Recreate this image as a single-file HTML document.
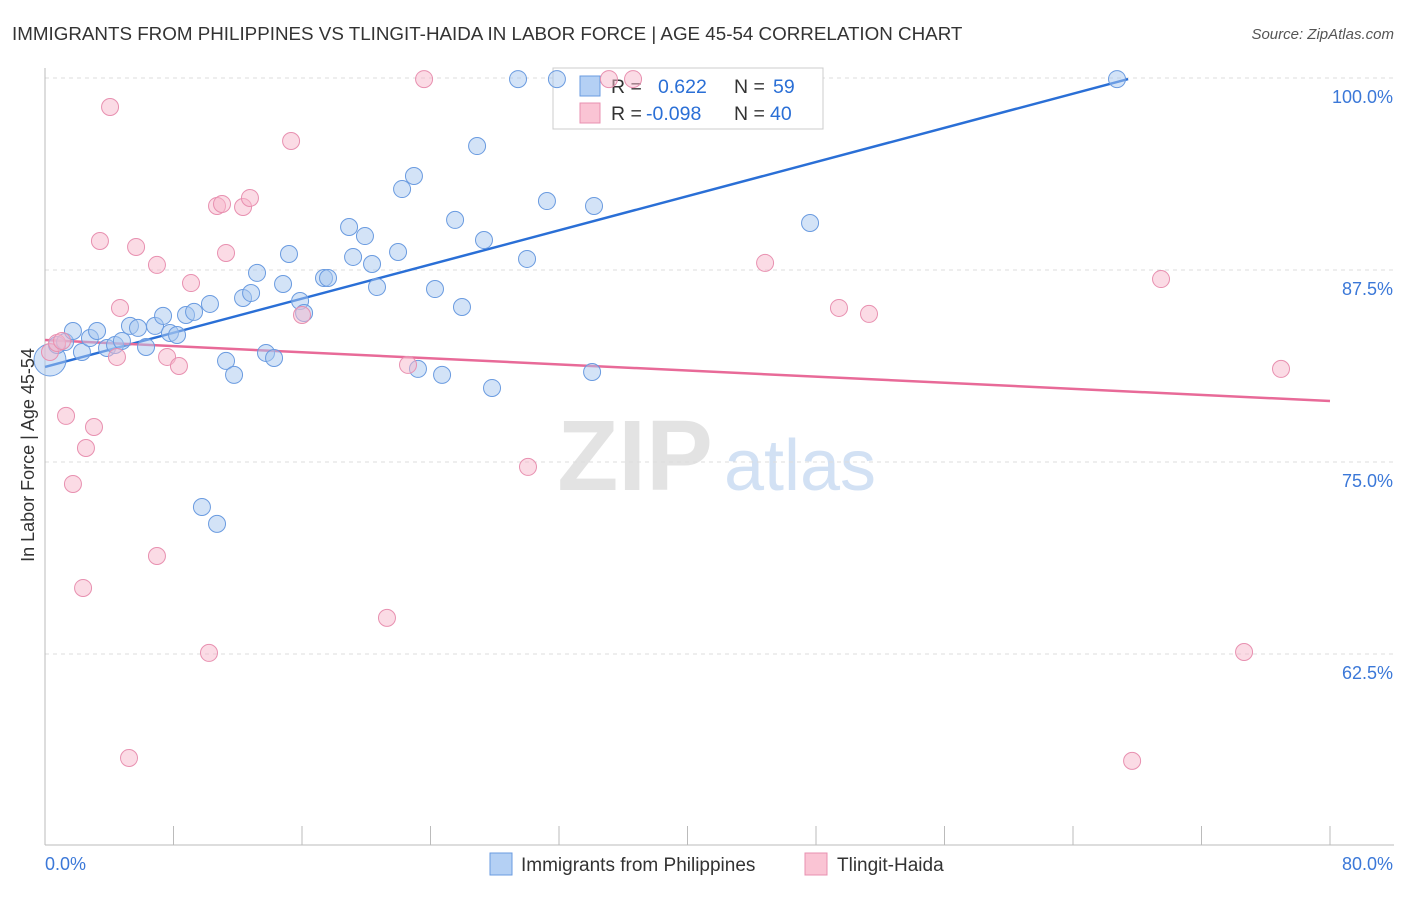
<!DOCTYPE html>
<html><head><meta charset="utf-8"><style>
body{margin:0;background:#fff;font-family:"Liberation Sans",sans-serif;}
svg text{font-family:"Liberation Sans",sans-serif;}
</style></head><body>
<svg width="1406" height="892" xmlns="http://www.w3.org/2000/svg">
<text x="12" y="40" font-size="18.8" fill="#333">IMMIGRANTS FROM PHILIPPINES VS TLINGIT-HAIDA IN LABOR FORCE | AGE 45-54 CORRELATION CHART</text>
<text x="1394" y="39" font-size="15" fill="#555" text-anchor="end" font-style="italic">Source: ZipAtlas.com</text>
<g>
<text x="635" y="490" font-size="100" fill="#ddd" text-anchor="middle" font-family="Liberation Serif" font-weight="bold" opacity="0.8">ZIP</text>
<text x="800" y="490" font-size="72" fill="#c8daf2" text-anchor="middle" opacity="0.8">atlas</text>
</g>
<g id="grid"></g><g id="axes"></g>
<g>
<rect x="553" y="68" width="270" height="61" fill="#fff" stroke="#ccc"/>
<rect x="580" y="76" width="20" height="20" fill="#b4d0f4" stroke="#6a9be0"/>
<rect x="580" y="103" width="20" height="20" fill="#fac4d4" stroke="#e890b0"/>
<text x="611" y="93" font-size="19.5" fill="#333">R = </text><text x="658" y="93" font-size="19.5" fill="#2a6fd6">0.622</text>
<text x="734" y="93" font-size="19.5" fill="#333">N = </text><text x="773" y="93" font-size="19.5" fill="#2a6fd6">59</text>
<text x="611" y="120" font-size="19.5" fill="#333">R = </text><text x="646" y="120" font-size="19.5" fill="#2a6fd6">-0.098</text>
<text x="734" y="120" font-size="19.5" fill="#333">N = </text><text x="770" y="120" font-size="19.5" fill="#2a6fd6">40</text>
</g>
<g id="lines"></g><g id="pts"></g>
<g>
<rect x="490" y="853" width="22" height="22" fill="#b4d0f4" stroke="#6a9be0"/>
<text x="521" y="871" font-size="19" fill="#333">Immigrants from Philippines</text>
<rect x="805" y="853" width="22" height="22" fill="#fac4d4" stroke="#e890b0"/>
<text x="837" y="871" font-size="19" fill="#333">Tlingit-Haida</text>
</g>
<text x="34" y="455" font-size="18" fill="#333" text-anchor="middle" transform="rotate(-90 34 455)">In Labor Force | Age 45-54</text>
</svg>
<script>
const blueX=[0.31,0.75,1.25,1.74,2.30,2.80,3.24,3.86,4.36,4.79,5.29,5.79,6.29,6.85,7.35,7.78,8.22,8.78,9.28,9.77,10.27,10.71,11.27,11.77,12.33,12.83,13.20,13.76,14.26,14.82,15.19,15.88,16.13,17.37,17.62,18.93,19.18,19.92,20.36,20.67,21.98,22.23,22.97,23.22,24.28,24.72,25.53,25.96,26.90,27.33,27.83,29.45,30.01,31.25,31.87,34.06,34.18,47.63,66.74];
const blueY=[81.64,82.62,82.81,83.53,82.16,83.07,83.53,82.42,82.62,82.88,83.86,83.73,82.49,83.86,84.51,83.40,83.27,84.57,84.77,72.07,85.29,70.97,81.58,80.67,85.68,86.00,87.31,82.10,81.77,86.59,88.54,85.48,84.70,86.98,86.98,90.30,88.35,89.71,87.89,86.39,88.67,92.77,93.62,81.06,86.26,80.67,90.76,85.09,95.57,89.45,79.82,99.93,88.22,91.99,99.93,80.86,91.67,90.56,99.93];
const pinkX=[0.31,0.75,1.06,1.31,1.74,2.37,2.55,3.05,3.42,4.05,4.48,4.67,5.23,5.67,6.97,6.97,7.60,8.34,9.09,10.21,10.71,11.02,11.27,12.33,12.76,15.32,16.00,21.29,22.60,23.60,30.07,35.11,36.61,44.83,49.43,51.30,69.48,74.65,76.95,67.68];
const pinkY=[82.16,82.75,82.88,78.00,73.57,66.80,75.91,77.28,89.39,98.11,81.84,85.03,55.73,89.00,68.88,87.83,81.84,81.25,86.65,62.57,91.67,91.80,88.61,91.60,92.19,95.90,84.57,64.85,81.32,99.93,74.68,99.93,99.93,87.96,85.03,84.64,86.91,62.63,81.06,55.54];
const blueTrend=[[0,81.19],[67.43,99.93]];
const pinkTrend=[[0,82.94],[80,78.97]];
const yTicks=[100,87.5,75,62.5];
const yTickLabels=["100.0%","87.5%","75.0%","62.5%"];
const xTicks=[0,8,16,24,32,40,48,56,64,72,80];
const NS="http://www.w3.org/2000/svg";
const sx=v=>45+v*(1285/80);
const sy=v=>78+(100-v)*15.36;
function mk(t,a,p){const e=document.createElementNS(NS,t);for(const k in a)e.setAttribute(k,a[k]);p.appendChild(e);return e;}
const grid=document.getElementById('grid'),axes=document.getElementById('axes'),lines=document.getElementById('lines'),pts=document.getElementById('pts');
yTicks.forEach((v,i)=>{
 const l=mk('line',{x1:45,x2:1394,y1:sy(v),y2:sy(v),stroke:'#ddd','stroke-dasharray':'4,4'},grid);
 
 
 const t=mk('text',{x:1393,y:sy(v)+25,'font-size':18,fill:'#3b78d8','text-anchor':'end'},axes);
 t.textContent=yTickLabels[i];
 
 
});
const ax=mk('line',{x1:45,x2:1394,y1:845,y2:845,stroke:'#bbb'},axes);


const ay=mk('line',{x1:45,x2:45,y1:68,y2:845,stroke:'#bbb'},axes);


xTicks.forEach(v=>{const t=mk('line',{x1:sx(v),x2:sx(v),y1:826,y2:845,stroke:'#bbb'},axes);
 
 });
const xl0=mk('text',{x:45,y:870,'font-size':18,fill:'#3b78d8'},axes);xl0.textContent='0.0%';


const xl1=mk('text',{x:1393,y:870,'font-size':18,fill:'#3b78d8','text-anchor':'end'},axes);xl1.textContent='80.0%';


blueX.forEach((x,i)=>{const c=mk('circle',{cx:sx(x),cy:sy(blueY[i]),r:i==0?16:8.5,fill:'rgba(168,200,240,0.5)',stroke:'#6a9be0','stroke-width':1},pts);
 
 });
pinkX.forEach((x,i)=>{const c=mk('circle',{cx:sx(x),cy:sy(pinkY[i]),r:8.5,fill:'rgba(248,184,204,0.5)',stroke:'#e890b0','stroke-width':1},pts);
 
 });
const bl=mk('line',{x1:sx(blueTrend[0][0]),y1:sy(blueTrend[0][1]),x2:sx(blueTrend[1][0]),y2:sy(blueTrend[1][1]),stroke:'#2a6fd6','stroke-width':2.5},lines);


const pl=mk('line',{x1:sx(pinkTrend[0][0]),y1:sy(pinkTrend[0][1]),x2:sx(pinkTrend[1][0]),y2:sy(pinkTrend[1][1]),stroke:'#e86a98','stroke-width':2.5},lines);


</script>
</body></html>
